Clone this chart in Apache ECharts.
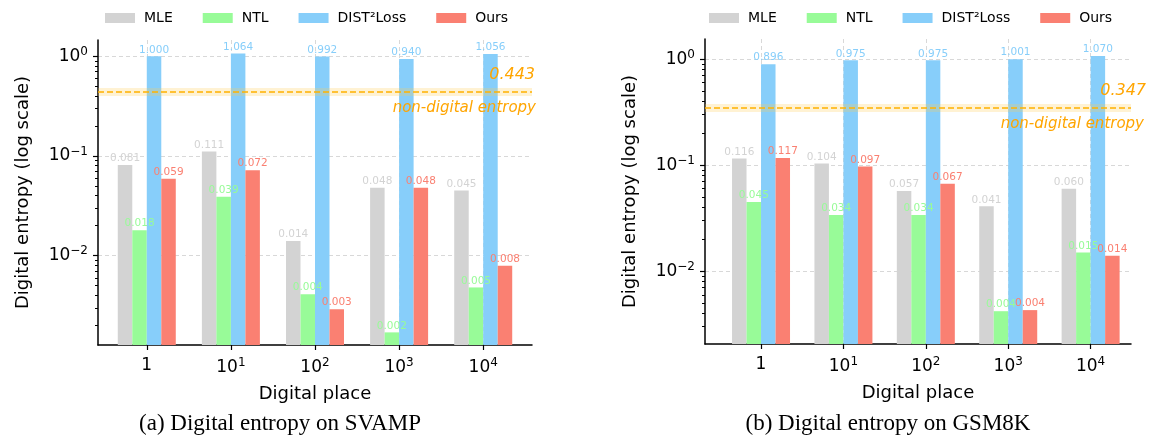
<!DOCTYPE html>
<html>
<head>
<meta charset="utf-8">
<script src="https://cdn.jsdelivr.net/npm/echarts@6/dist/echarts.min.js"></script>
<style>
html, body { margin: 0; padding: 0; background: #fff; }
#chart { width: 1151px; height: 441px; }
</style>
</head>
<body>
<div id="chart"></div>
<script>
// digital places (x categories) and methods
const places = ['1', '10^1', '10^2', '10^3', '10^4'];
const methods = ['MLE', 'NTL', 'DIST²Loss', 'Ours'];
const colors = ['#d3d3d3', '#98fb98', '#87cefa', '#fa8072'];
const yTicks = [0.01, 0.1, 1];

// (a) SVAMP
const svampMLE  = [0.081, 0.111, 0.014, 0.048, 0.045];
const svampNTL  = [0.018, 0.039, 0.0041, 0.0017, 0.0048];
const svampDIST = [1.000, 1.064, 0.992, 0.940, 1.056];
const svampOurs = [0.059, 0.072, 0.0029, 0.048, 0.0079];
const svampEntropy = 0.443;

// (b) GSM8K
const gsmMLE  = [0.116, 0.104, 0.057, 0.041, 0.060];
const gsmNTL  = [0.045, 0.034, 0.034, 0.0042, 0.015];
const gsmDIST = [0.896, 0.975, 0.975, 1.001, 1.070];
const gsmOurs = [0.117, 0.097, 0.067, 0.0043, 0.014];
const gsmEntropy = 0.347;

const FONT = 'DejaVu Sans';
const powRich = {
  b: { fontSize: 17, fontFamily: FONT, color: '#000' },
  e: { fontSize: 12, fontFamily: FONT, color: '#000', padding: [0, 0, 9, 0] }
};

function placeLabel(s) {
  const p = s.split('^');
  return p.length > 1 ? '{b|' + p[0] + '}{e|' + p[1] + '}' : '{b|' + s + '}';
}
function powLabel(v) {
  const e = Math.round(Math.log10(v));
  return '{b|10}{e|' + (e < 0 ? '\u2212' + (-e) : e) + '}';
}
// minor log ticks 2..9 x 10^k (in log10 units)
function minorTicks(lo, hi) {
  const out = [];
  for (let k = -4; k <= 1; k++) {
    for (let m = 2; m <= 9; m++) {
      const v = Math.log10(m * Math.pow(10, k));
      if (v > lo && v < hi) out.push(v);
    }
  }
  return out;
}

const panels = [
  { data: [svampMLE, svampNTL, svampDIST, svampOurs], entropy: svampEntropy,
    grid: { left: 98, top: 40, width: 434, height: 305 },
    xMin: -0.58, xMax: 4.58, yMin: 0.00127, yMax: 1.456, legendLeft: 100,
    valShift: 12, textShift: 13 },
  { data: [gsmMLE, gsmNTL, gsmDIST, gsmOurs], entropy: gsmEntropy,
    grid: { left: 705, top: 39, width: 426, height: 305 },
    xMin: -0.68, xMax: 4.49, yMin: 0.00206, yMax: 1.55, legendLeft: 704,
    valShift: 24, textShift: 22 }
];

const grid = [], xAxis = [], yAxis = [], series = [], legend = [];
panels.forEach(function (p, gi) {
  grid.push(p.grid);
  legend.push({
    left: p.legendLeft, top: 6, itemWidth: 30, itemHeight: 10, itemGap: 30,
    icon: 'rect', selectedMode: false,
    textStyle: { fontFamily: FONT, fontSize: 14, color: '#000', padding: [0, 0, 0, 4] },
    data: methods
  });
  xAxis.push({
    type: 'value', gridIndex: gi, min: p.xMin, max: p.xMax,
    name: 'Digital place', nameLocation: 'middle', nameGap: 40,
    nameTextStyle: { fontFamily: FONT, fontSize: 18, color: '#000' },
    axisLine: { onZero: false, lineStyle: { color: '#000', width: 1.5 } },
    axisTick: { customValues: [0, 1, 2, 3, 4], length: 5, lineStyle: { color: '#000', width: 1.2 } },
    axisLabel: { customValues: [0, 1, 2, 3, 4], margin: 12, rich: powRich,
      formatter: function (v) { return placeLabel(places[Math.round(v)]); } },
    splitLine: { show: true, lineStyle: { type: [4, 3], color: '#d8d8d8', width: 1 } }
  });
  yAxis.push({
    type: 'log', gridIndex: gi, position: 'left', min: p.yMin, max: p.yMax, startValue: p.yMin,
    name: 'Digital entropy (log scale)', nameLocation: 'middle', nameGap: 66,
    nameTextStyle: { fontFamily: FONT, fontSize: 18, color: '#000' },
    axisLine: { show: true, onZero: false, lineStyle: { color: '#000', width: 1.5 } },
    axisTick: { customValues: yTicks, length: 5, lineStyle: { color: '#000', width: 1.2 } },
    axisLabel: { customValues: yTicks, margin: 10, rich: powRich, formatter: powLabel },
    splitLine: { show: true, lineStyle: { type: [4, 3], color: '#d8d8d8', width: 1 } }
  });
  // minor ticks overlay (log10 units)
  const lo = Math.log10(p.yMin), hi = Math.log10(p.yMax);
  yAxis.push({
    type: 'value', gridIndex: gi, position: 'left', min: lo, max: hi,
    axisLine: { show: false, onZero: false },
    axisTick: { show: true, customValues: minorTicks(lo, hi), length: 3, lineStyle: { color: '#000', width: 1 } },
    axisLabel: { show: false },
    splitLine: { show: false }
  });

  p.data.forEach(function (vals, si) {
    const s = {
      name: methods[si], type: 'bar', xAxisIndex: gi, yAxisIndex: gi * 2,
      barWidth: 14.5, barGap: '0%',
      itemStyle: { color: colors[si] },
      label: {
        show: true, position: 'top', distance: 1, color: colors[si],
        fontFamily: FONT, fontSize: 10.5,
        formatter: function (d) { return d.value[1].toFixed(3); }
      },
      data: vals.map(function (v, i) { return [i, v]; })
    };
    if (si === 2) {
      s.markLine = {
        silent: true, symbol: 'none', animation: false,
        data: [
          { yAxis: p.entropy,
            lineStyle: { color: 'rgba(255,205,80,0.25)', width: 8, type: 'solid' },
            label: { show: true, position: 'insideEndBottom', distance: 9, formatter: 'non-digital entropy',
              offset: [p.textShift, 0],
              color: '#ffa500', fontFamily: FONT, fontSize: 15, fontStyle: 'italic' } },
          { yAxis: p.entropy,
            lineStyle: { color: '#ffb300', width: 1.5, type: [6, 3] },
            label: { show: true, position: 'insideEndTop', distance: 9, formatter: p.entropy.toFixed(3),
              offset: [p.valShift, 0],
              color: '#ffa500', fontFamily: FONT, fontSize: 16, fontStyle: 'italic' } }
        ]
      };
    }
    series.push(s);
  });
});

const myChart = echarts.init(document.getElementById('chart'));
myChart.setOption({
  animation: false,
  title: [
    { text: '(a) Digital entropy on SVAMP', left: 275, top: 407, textAlign: 'center',
      textStyle: { fontFamily: 'Liberation Serif', fontSize: 23, fontWeight: 'normal', color: '#000' } },
    { text: '(b) Digital entropy on GSM8K', left: 883, top: 407, textAlign: 'center',
      textStyle: { fontFamily: 'Liberation Serif', fontSize: 23, fontWeight: 'normal', color: '#000' } }
  ],
  legend: legend,
  grid: grid,
  xAxis: xAxis,
  yAxis: yAxis,
  series: series
});
window.addEventListener('resize', function () { myChart.resize(); });
</script>
</body>
</html>
